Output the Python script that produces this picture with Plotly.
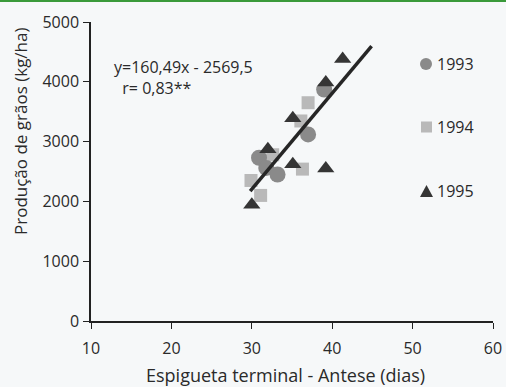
import plotly.graph_objects as go

# 1993 (circles)
x_1993 = [30.9, 31.8, 33.2, 37.0, 39.0]
y_1993 = [2730, 2560, 2450, 3120, 3870]
# 1994 (squares)
x_1994 = [29.9, 31.1, 32.6, 36.3, 36.1, 37.0]
y_1994 = [2350, 2100, 2780, 2540, 3345, 3650]
# 1995 (triangles)
x_1995 = [30.0, 32.0, 35.1, 39.2, 35.1, 39.2, 41.3]
y_1995 = [1945, 2870, 2620, 2550, 3390, 3990, 4380]

# regression y = 160.49x - 2569.5
slope, intercept = 160.49, -2569.5
fit_x = [29.8, 44.9]
fit_y = [slope * v + intercept - 40 for v in fit_x]

x_ticks = [10, 20, 30, 40, 50, 60]
y_ticks = [0, 1000, 2000, 3000, 4000, 5000]
years = ["1993", "1994", "1995"]

FONT = "Open Sans"
INK = "#2a2a2a"
C93, C94, C95 = "#8a8a8a", "#b9b9b9", "#353535"

W, H = 506, 387
ML, MR, MT, MB = 91, 13, 22, 66
PW, PH = W - ML - MR, H - MT - MB


def px(xp):
    return (xp - ML) / PW


def py(yp):
    return (H - MB - yp) / PH


fig = go.Figure()
fig.add_trace(go.Scatter(x=x_1994, y=y_1994, mode="markers", name="1994",
                         marker=dict(symbol="square", size=13, color=C94)))
fig.add_trace(go.Scatter(x=x_1993, y=y_1993, mode="markers", name="1993",
                         marker=dict(symbol="circle", size=16, color=C93)))
fig.add_trace(go.Scatter(x=x_1995, y=y_1995, mode="markers", name="1995",
                         marker=dict(symbol="triangle-up", size=15, color=C95)))
fig.add_trace(go.Scatter(x=fit_x, y=fit_y, mode="lines",
                         line=dict(color="#262626", width=3.5)))

# equation (one two-line block)
fig.add_annotation(x=px(112), y=py(77), xref="paper", yref="paper", xanchor="left", yanchor="middle",
                   text="y=160,49x - 2569,5<br>&nbsp;&nbsp;r= 0,83**", showarrow=False, align="left",
                   font=dict(family=FONT, size=16, color=INK))

# legend (manual)
leg_y = [64, 127, 191]
for lbl, yy in zip(years, leg_y):
    fig.add_annotation(x=px(435), y=py(yy), xref="paper", yref="paper", xanchor="left", yanchor="middle",
                       text=lbl, showarrow=False, font=dict(family=FONT, size=16, color=INK))
fig.add_shape(type="circle", xref="paper", yref="paper",
              x0=px(420), x1=px(432), y0=py(70), y1=py(58),
              fillcolor=C93, line=dict(width=0))
fig.add_shape(type="rect", xref="paper", yref="paper",
              x0=px(421), x1=px(432), y0=py(132.5), y1=py(121.5),
              fillcolor=C94, line=dict(width=0))
fig.add_shape(type="path", xref="paper", yref="paper",
              path=f"M {px(420)} {py(197)} L {px(433)} {py(197)} L {px(426.5)} {py(185)} Z",
              fillcolor=C95, line=dict(width=0))

# axis titles
fig.add_annotation(x=px(20), y=py(131), xref="paper", yref="paper", xanchor="center", yanchor="middle",
                   text="Produção de grãos (kg/ha)", textangle=-90, showarrow=False,
                   font=dict(family=FONT, size=17, color=INK))
fig.add_annotation(x=px(285), y=py(375), xref="paper", yref="paper", xanchor="center", yanchor="middle",
                   text="Espigueta terminal - Antese (dias)", showarrow=False,
                   font=dict(family=FONT, size=18, color=INK))

# green top rule
fig.add_shape(type="rect", xref="paper", yref="paper", x0=-0.3, x1=1.1, y0=py(2), y1=py(-2),
              fillcolor="#3a9a3a", line=dict(width=0), layer="below")

fig.update_layout(
    width=W, height=H, showlegend=False,
    margin=dict(l=ML, r=MR, t=MT, b=MB),
    paper_bgcolor="#f6f8f9", plot_bgcolor="rgba(0,0,0,0)",
    font=dict(family=FONT, size=16, color=INK),
    xaxis=dict(range=[10, 60], tickvals=x_ticks, ticks="outside", ticklen=6,
               tickcolor="#222", showline=True, linecolor="#222", linewidth=1.5,
               showgrid=False, zeroline=False, automargin=False, ticklabelstandoff=6,
               tickfont=dict(family=FONT, size=16, color=INK)),
    yaxis=dict(range=[0, 5000], tickvals=y_ticks, ticks="outside", ticklen=6,
               tickcolor="#222", showline=True, linecolor="#222", linewidth=1.5,
               showgrid=False, zeroline=False, automargin=False, ticklabelstandoff=1,
               tickfont=dict(family=FONT, size=16, color=INK)),
)

fig.write_html("out.html")
